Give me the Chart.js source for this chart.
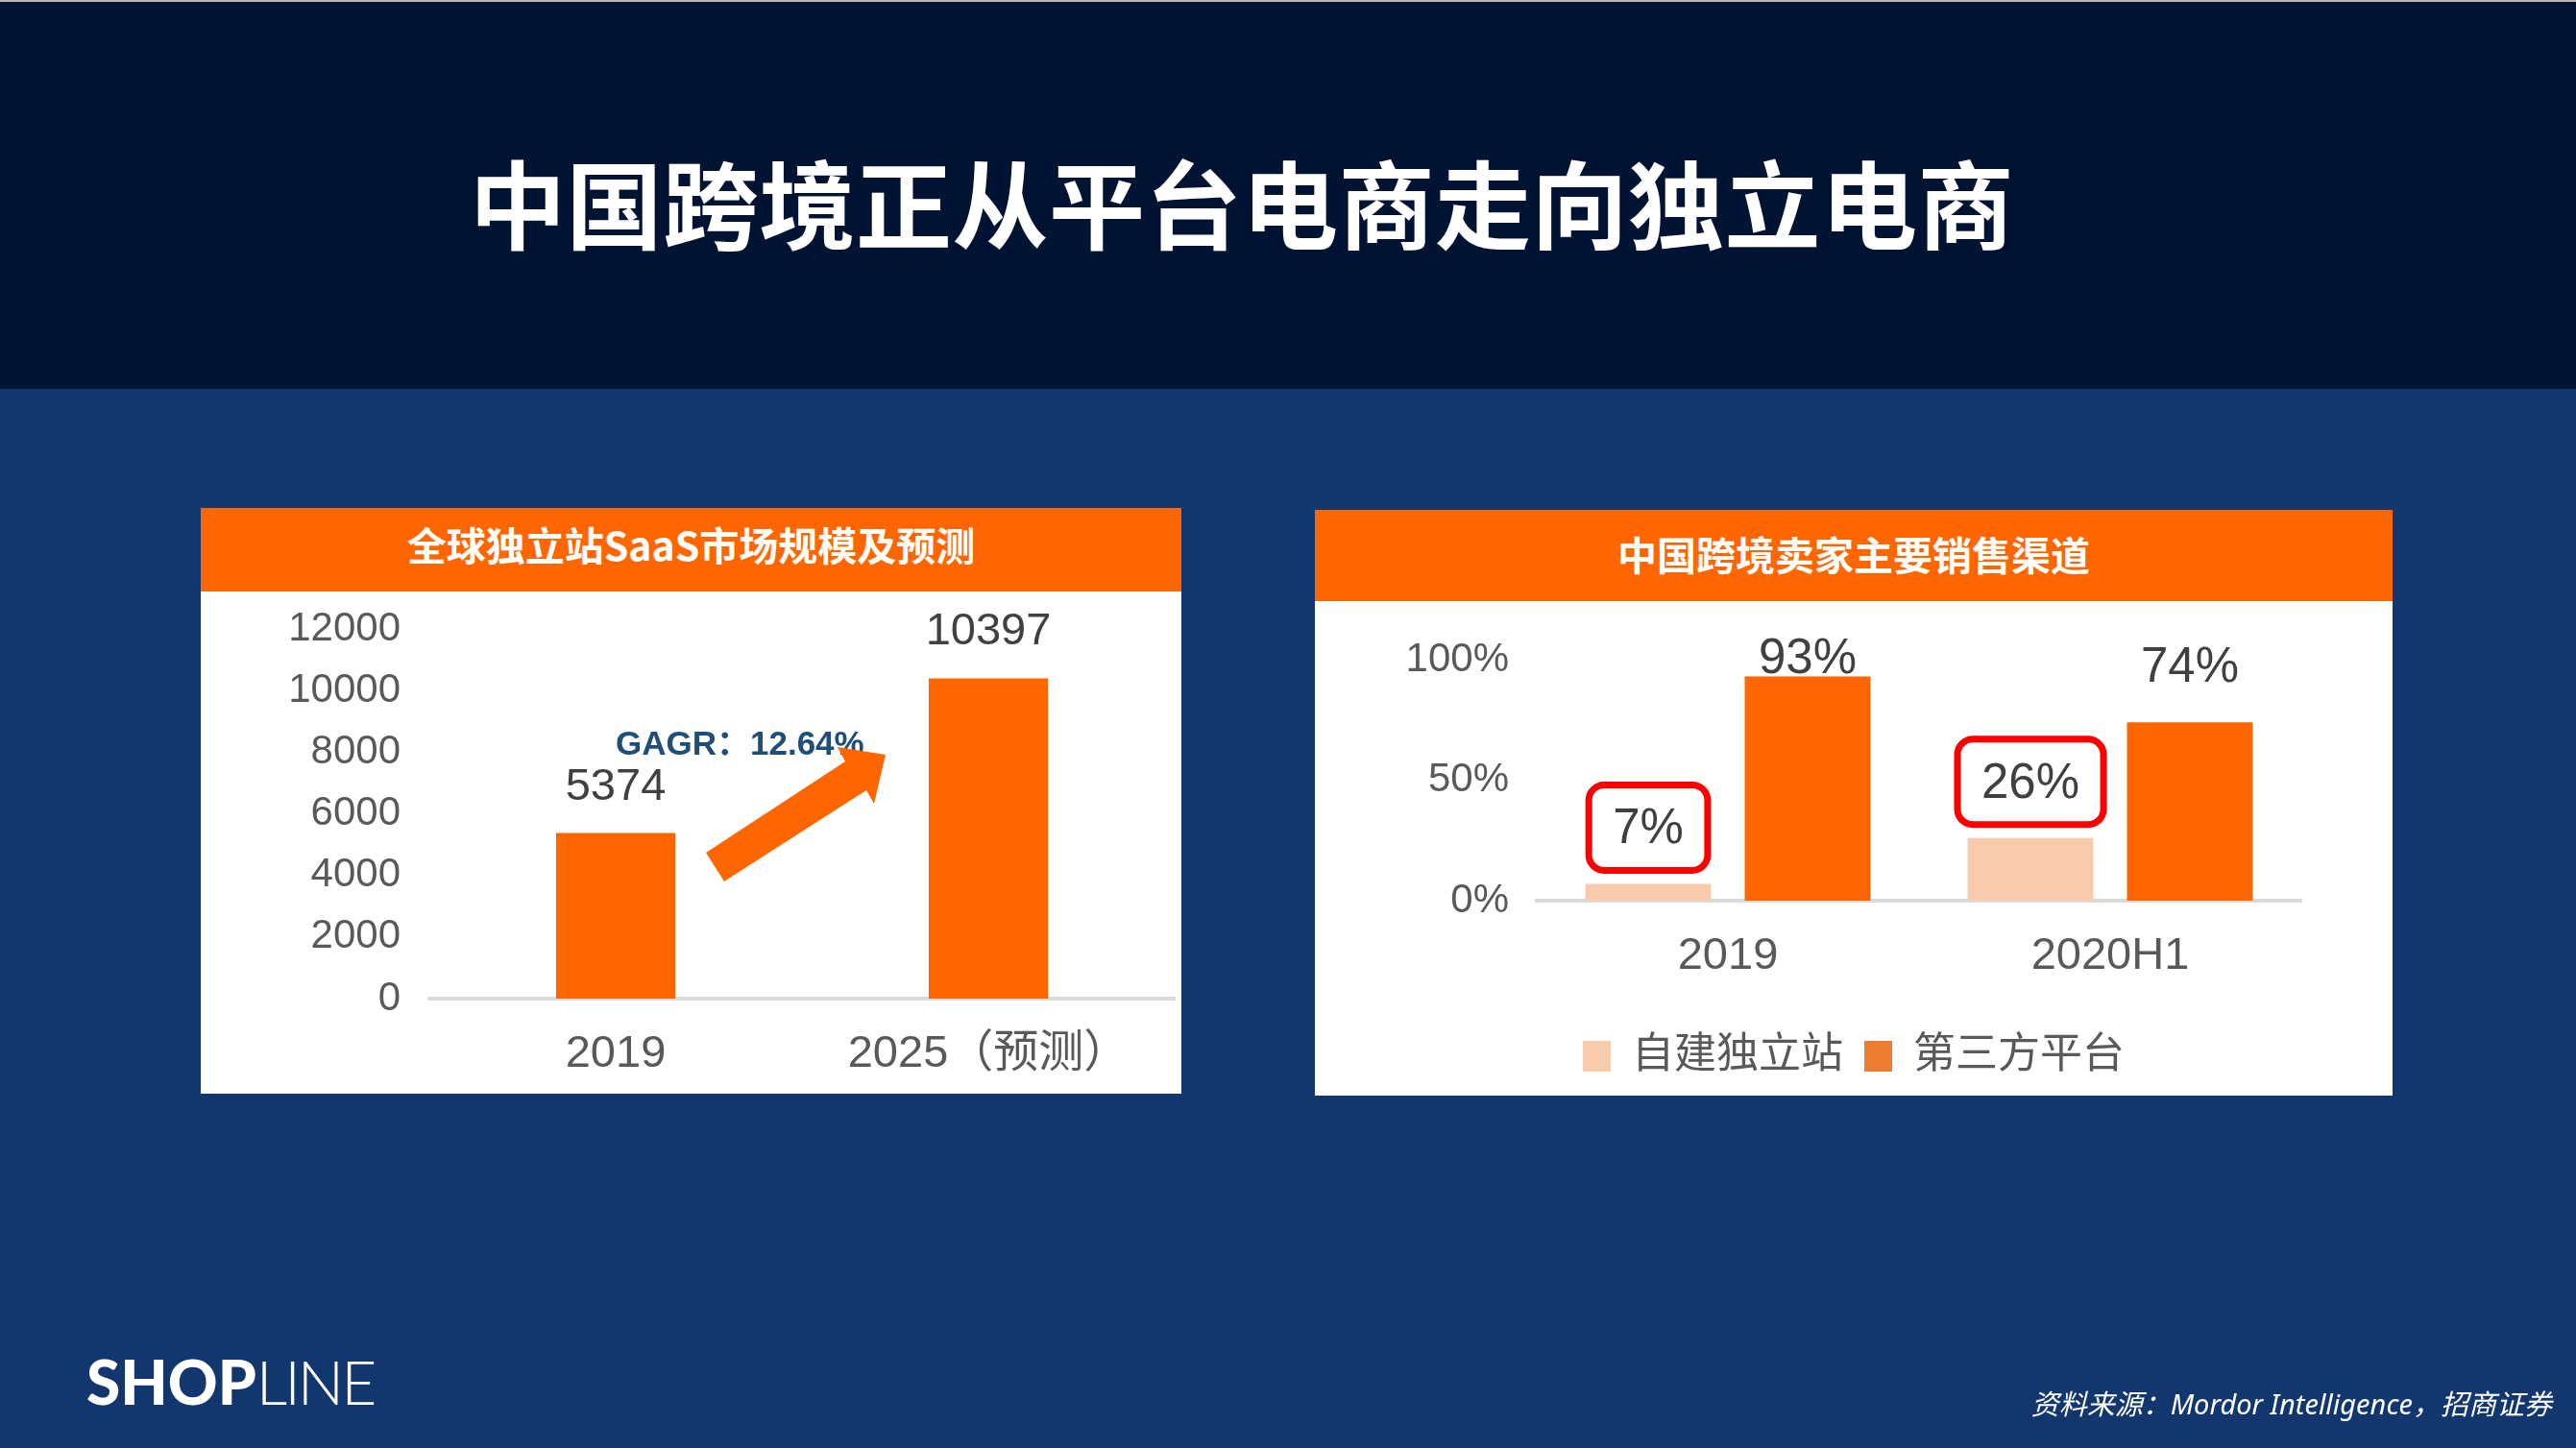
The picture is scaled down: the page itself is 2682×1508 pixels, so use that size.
<!DOCTYPE html>
<html lang="zh-CN">
<head>
<meta charset="utf-8">
<title>中国跨境正从平台电商走向独立电商</title>
<script src="https://cdn.jsdelivr.net/npm/chart.js@4.4.1/dist/chart.umd.min.js"></script>
<style>
  html, body { margin: 0; padding: 0; }
  body {
    width: 2682px; height: 1508px; overflow: hidden; position: relative;
    background: #12376f;
    font-family: "Noto Sans CJK SC", "Liberation Sans", sans-serif;
  }
  #topband {
    position: absolute; left: 0; top: 0; width: 2682px; height: 403px;
    background: #001333; border-top: 2px solid #b4b4b4;
  }
  #title {
    position: absolute; left: 489px; top: 159px; height: 100px; line-height: 100px;
    font-size: 100px; font-weight: 700; color: #fff; white-space: nowrap; letter-spacing: 0.5px;
  }
  .panel { position: absolute; background: #fff; }
  .panel .head {
    background: #ff6600; color: #fff; font-weight: 700; text-align: center; white-space: nowrap;
  }
  .chartbox { position: absolute; }
  #gagr {
    position: absolute; left: 641px; top: 745px; height: 44px; line-height: 44px;
    font: 700 35px "Liberation Sans", "Noto Sans CJK SC", sans-serif; color: #1f4e79; white-space: nowrap;
  }
  #arrow { position: absolute; left: 0; top: 0; pointer-events: none; }
  #logo {
    position: absolute; left: 90px; top: 1399px; height: 80px; line-height: 80px;
    font-family: "Lato", "Open Sans", sans-serif; font-size: 64px; color: #fff; white-space: nowrap;
  }
  #logo b { font-weight: 900; }
  #logo span { font-weight: 300; letter-spacing: -3px; }
  #source {
    position: absolute; right: 25px; top: 1442px; height: 40px; line-height: 40px;
    font-family: "Noto Sans", "Noto Sans CJK SC", sans-serif; font-style: italic;
    font-size: 29px; color: #fff; white-space: nowrap;
  }
</style>
</head>
<body>
<div id="topband"></div>
<div id="title">中国跨境正从平台电商走向独立电商</div>

<div class="panel" style="left:209px; top:529px; width:1021px; height:610px;">
  <div class="head" style="height:87px; line-height:74px; font-size:41px;">全球独立站SaaS市场规模及预测</div>
</div>
<div class="chartbox" style="left:209px; top:616px; width:1021px; height:523px;">
  <canvas id="sizeChart"></canvas>
</div>
<div id="gagr">GAGR：12.64%</div>
<svg id="arrow" width="2682" height="1508">
  <polygon fill="#ff6600" points="735,888 880,793 872,778 922,786 910,837 902,823 754,918"/>
</svg>

<div class="panel" style="left:1369px; top:531px; width:1122px; height:610px;">
  <div class="head" style="height:95px; line-height:90px; font-size:41px;">中国跨境卖家主要销售渠道</div>
</div>
<div class="chartbox" style="left:1369px; top:626px; width:1122px; height:515px;">
  <canvas id="channelChart"></canvas>
</div>

<div id="logo"><b>SHOP</b><span>LINE</span></div>
<div id="source">资料来源：Mordor Intelligence，招商证券</div>

<script>
// 全球独立站SaaS市场规模
const sizeYears = ['2019', '2025（预测）'];
const sizeValues = [5374, 10397];
const sizeTicks = { min: 0, max: 12000, step: 2000 };

// 中国跨境卖家主要销售渠道
const channelYears = ['2019', '2020H1'];
const selfSiteShare = [7, 26];
const platformShare = [93, 74];
const channelNames = ['自建独立站', '第三方平台'];

const ORANGE = '#ff6600';
const PEACH = '#f8cbad';
const LEGEND_ORANGE = '#ed7d31';
const GREY_TEXT = '#595959';
const LABEL_TEXT = '#404040';
const AXIS_LINE = '#d9d9d9';

Chart.defaults.font.family = '"Liberation Sans", "Noto Sans CJK SC", sans-serif';
Chart.defaults.color = GREY_TEXT;

// 柱顶数值标签（可选红框高亮）
const barValueLabels = {
    id: 'barValueLabels',
    afterDatasetsDraw(chart, args, opts) {
        const { ctx, chartArea } = chart;
        ctx.save();
        ctx.font = opts.font;
        ctx.fillStyle = opts.color;
        ctx.textAlign = 'center';
        ctx.textBaseline = 'middle';
        chart.data.datasets.forEach((ds, i) => {
            chart.getDatasetMeta(i).data.forEach((bar, j) => {
                const text = opts.format(ds.data[j]);
                const y = Math.max(bar.y - opts.offset, chartArea.top);
                if (ds.highlight) {
                    const w = ctx.measureText(text).width;
                    ctx.save();
                    ctx.strokeStyle = '#ff0000';
                    ctx.lineWidth = 7;
                    ctx.beginPath();
                    ctx.roundRect(bar.x - w / 2 - 25, y - 47, w + 50, 89, 16);
                    ctx.stroke();
                    ctx.restore();
                }
                ctx.fillText(text, bar.x, y);
            });
        });
        ctx.restore();
    }
};

new Chart(document.getElementById('sizeChart'), {
    type: 'bar',
    data: {
        labels: sizeYears,
        datasets: [{
            label: '市场规模',
            data: sizeValues,
            backgroundColor: ORANGE,
            borderWidth: 0,
            categoryPercentage: 1,
            barPercentage: 0.32
        }]
    },
    options: {
        responsive: true,
        maintainAspectRatio: false,
        devicePixelRatio: 1,
        animation: false,
        layout: { padding: { top: 39, right: 7, left: 0, bottom: 0 } },
        plugins: {
            legend: { display: false },
            tooltip: { enabled: false },
            barValueLabels: {
                font: '47px "Liberation Sans", sans-serif',
                color: LABEL_TEXT,
                offset: 48,
                format: v => String(v)
            }
        },
        scales: {
            x: {
                grid: { display: false, drawTicks: false },
                border: { display: true, color: AXIS_LINE, width: 4 },
                ticks: { font: { size: 47 }, color: GREY_TEXT, padding: 30 },
                afterFit(scale) { scale.height = 99; }
            },
            y: {
                min: sizeTicks.min,
                max: sizeTicks.max,
                // 用不可见的刻度线长度留出标签间距，避免 ticks.padding 抬高绘图区
                grid: { display: false, drawTicks: true, tickLength: 30 },
                border: { display: false },
                ticks: {
                    stepSize: sizeTicks.step,
                    font: { size: 42 },
                    color: GREY_TEXT,
                    padding: 0,
                    callback: v => String(v)
                },
                afterFit(scale) { scale.width = 238; }
            }
        }
    },
    plugins: [barValueLabels]
});

const legendColors = [PEACH, LEGEND_ORANGE];

new Chart(document.getElementById('channelChart'), {
    type: 'bar',
    data: {
        labels: channelYears,
        datasets: [
            {
                label: channelNames[0],
                data: selfSiteShare,
                backgroundColor: PEACH,
                borderWidth: 0,
                highlight: true,
                categoryPercentage: 0.834,
                barPercentage: 0.789
            },
            {
                label: channelNames[1],
                data: platformShare,
                backgroundColor: ORANGE,
                borderWidth: 0,
                categoryPercentage: 0.834,
                barPercentage: 0.789
            }
        ]
    },
    options: {
        responsive: true,
        maintainAspectRatio: false,
        devicePixelRatio: 1,
        animation: false,
        layout: { padding: { top: 61, right: 0, left: 0, bottom: 9 } },
        plugins: {
            tooltip: { enabled: false },
            legend: {
                position: 'bottom',
                labels: {
                    font: { size: 44 },
                    color: GREY_TEXT,
                    boxWidth: 29,
                    boxHeight: 32,
                    padding: 22,
                    generateLabels(chart) {
                        return Chart.defaults.plugins.legend.labels.generateLabels(chart).map((item, i) => ({
                            ...item,
                            fillStyle: legendColors[i],
                            strokeStyle: legendColors[i],
                            lineWidth: 0
                        }));
                    }
                }
            },
            barValueLabels: {
                font: '51px "Liberation Sans", sans-serif',
                color: LABEL_TEXT,
                offset: 56,
                format: v => v + '%'
            }
        },
        scales: {
            x: {
                grid: { display: false, drawTicks: false },
                border: { display: true, color: AXIS_LINE, width: 4 },
                ticks: { font: { size: 47 }, color: GREY_TEXT, padding: 30 },
                afterFit(scale) { scale.height = 118; }
            },
            y: {
                min: 0,
                max: 100,
                grid: { display: false, drawTicks: true, tickLength: 29 },
                border: { display: false },
                ticks: { stepSize: 50, font: { size: 42 }, color: GREY_TEXT, padding: 0, callback: v => v + '%' },
                afterFit(scale) { scale.width = 231; }
            },
            // 右侧留白，让图例保持在整个面板的中间
            yRight: {
                position: 'right',
                display: true,
                grid: { display: false, drawTicks: false },
                border: { display: false },
                ticks: { display: false },
                afterFit(scale) { scale.width = 95; }
            }
        }
    },
    plugins: [barValueLabels]
});
</script>
</body>
</html>
